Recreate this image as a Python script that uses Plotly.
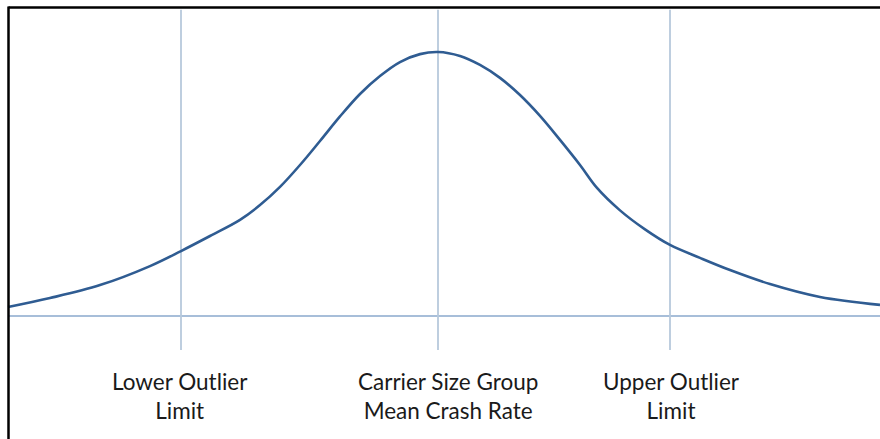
import plotly.graph_objects as go

# Curve (relative crash rate offset vs. relative density)
curve_x = [-4.30, -3.88, -3.38, -2.88, -2.57, -2.28, -1.98, -1.78, -1.58, -1.38,
           -1.18, -0.98, -0.78, -0.58, -0.38, -0.18, 0.0, 0.22, 0.42, 0.62,
           0.82, 1.02, 1.22, 1.42, 1.59, 1.82, 2.07, 2.32, 2.62, 2.92,
           3.32, 3.82, 4.42]
curve_y = [0.034, 0.068, 0.117, 0.189, 0.246, 0.303, 0.364, 0.420, 0.489, 0.572,
           0.663, 0.756, 0.841, 0.909, 0.962, 0.992, 1.000, 0.985, 0.951, 0.902,
           0.837, 0.758, 0.667, 0.572, 0.485, 0.400, 0.328, 0.269, 0.220, 0.174,
           0.121, 0.072, 0.042]

# Reference line positions and labels
limit_x = [-2.57, 0.0, 2.32]
limit_labels = ["Lower Outlier<br>Limit", "Carrier Size Group<br>Mean Crash Rate", "Upper Outlier<br>Limit"]
label_offsets = [-0.01, 0.10, 0.01]

fig = go.Figure()

fig.add_trace(go.Scatter(
    x=curve_x, y=curve_y, mode="lines",
    line=dict(color="#2f5c92", width=2.6, shape="spline", smoothing=1.0),
    hoverinfo="skip", showlegend=False,
))

shapes = []
# baseline
shapes.append(dict(type="line", xref="x", yref="y", x0=-4.30, x1=4.42, y0=0, y1=0,
                   line=dict(color="#8aa8cc", width=1.6), layer="below"))
# vertical lines
for xv in limit_x:
    shapes.append(dict(type="line", xref="x", yref="y", x0=xv, x1=xv, y0=1.16, y1=-0.129,
                       line=dict(color="#b7c9dc", width=1.8), layer="below"))
# frame (top and left)
shapes.append(dict(type="line", xref="paper", yref="paper", x0=8.5/880, x1=1.0,
                   y0=1 - 7.5/439, y1=1 - 7.5/439, line=dict(color="black", width=2.5)))
shapes.append(dict(type="line", xref="paper", yref="paper", x0=8.5/880, x1=8.5/880,
                   y0=0, y1=1 - 6.5/439, line=dict(color="black", width=2.5)))

annotations = []
for xv, lab, off in zip(limit_x, limit_labels, label_offsets):
    annotations.append(dict(x=xv + off, y=-0.303, xref="x", yref="y", text=lab,
                            showarrow=False, xanchor="center", yanchor="middle",
                            font=dict(family="Lato, Open Sans, sans-serif", size=22.5, color="#1a1a1a")))

fig.update_layout(
    width=880, height=439,
    margin=dict(l=0, r=0, t=0, b=0),
    paper_bgcolor="white", plot_bgcolor="white",
    xaxis=dict(range=[-4.38, 4.42], visible=False, fixedrange=True),
    yaxis=dict(range=[-0.466, 1.197], visible=False, fixedrange=True),
    shapes=shapes, annotations=annotations,
)

fig.write_html("out.html", config={"displayModeBar": False},
               post_script="document.body.style.margin='0';document.body.style.overflow='hidden';")
